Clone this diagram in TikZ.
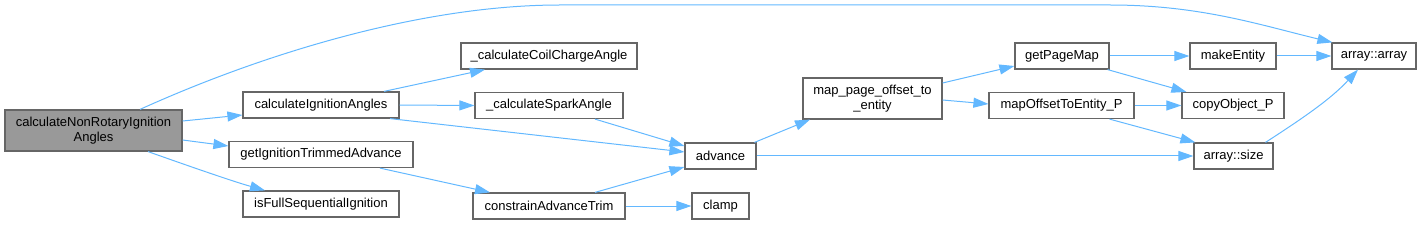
\documentclass[tikz,border=0pt]{standalone}
\usepackage{fontspec}
\setmainfont{Liberation Sans}
\usetikzlibrary{arrows.meta}
\definecolor{edgeblue}{RGB}{99,184,255}
\definecolor{boxgray}{RGB}{102,102,102}
\definecolor{rootgray}{RGB}{153,153,153}

\begin{document}
\begin{tikzpicture}[
  x=1pt,y=1pt,
  every node/.style={font=\fontsize{13}{14.5}\selectfont},
  fnbox/.style={rectangle,draw=boxgray,line width=1.2pt,fill=white,align=center,
    minimum height=26pt,inner sep=2pt},
  call/.style={draw=edgeblue,line width=1pt,-{Triangle[length=15pt,width=10pt]}}
]
\useasboundingbox (0,0) rectangle (1421,225);
\node[fnbox,fill=rootgray,minimum width=177pt,minimum height=41pt] (root) at (93.5,94.5) {calculateNonRotaryIgnition\\Angles};
\node[fnbox,minimum width=156pt] (cia) at (321,120) {calculateIgnitionAngles};
\node[fnbox,minimum width=184pt] (gita) at (321,70.5) {getIgnitionTrimmedAdvance};
\node[fnbox,minimum width=156pt] (fsi) at (321,21) {isFullSequentialIgnition};
\node[fnbox,minimum width=176pt] (ccca) at (549,169) {\_calculateCoilChargeAngle};
\node[fnbox,minimum width=148pt] (csa) at (549,119.5) {\_calculateSparkAngle};
\node[fnbox,minimum width=71pt] (adv) at (720.5,69) {advance};
\node[fnbox,minimum width=152pt] (cat) at (549,19) {constrainAdvanceTrim};
\node[fnbox,minimum width=57pt] (clamp) at (720.5,19) {clamp};
\node[fnbox,minimum width=139pt,minimum height=41pt] (mpo) at (872.5,126.5) {map\_page\_offset\_to\\\_entity};
\node[fnbox,minimum width=94pt] (gpm) at (1062,169) {getPageMap};
\node[fnbox,minimum width=145pt] (moe) at (1061.5,119.5) {mapOffsetToEntity\_P};
\node[fnbox,minimum width=86pt] (mke) at (1233,169) {makeEntity};
\node[fnbox,minimum width=102pt] (cop) at (1233,119.5) {copyObject\_P};
\node[fnbox,minimum width=79pt] (asz) at (1233.5,69) {array::size};
\node[fnbox,minimum width=84pt] (aar) at (1374,169) {array::array};

% calls from the root function
\draw[call] ([xshift=46.5]root.north) .. controls (260,170) and (420,220) .. (560,220)
  -- (1110,220) .. controls (1200,220) and (1260,200) .. ([xshift=1]aar.north west);
\draw[call] ([yshift=9.5]root.east) -- ([yshift=-10]cia.west);
\draw[call] ([yshift=-9.5]root.east) -- ([yshift=8.5]gita.west);
\draw[call] ([xshift=54.5]root.south) .. controls (200,55) and (235,43) .. ([xshift=-56]fsi.north);
% second column
\draw[call] ([xshift=63]cia.north) -- ([xshift=-64]ccca.south);
\draw[call] (cia.east) -- (csa.west);
\draw[call] ([xshift=69]cia.south) -- ([yshift=4]adv.west);
\draw[call] ([xshift=46]csa.south) -- ([yshift=10]adv.west);
\draw[call] ([xshift=59]gita.south) -- ([xshift=-59]cat.north);
\draw[call] ([xshift=46]cat.north) -- ([yshift=-11]adv.west);
\draw[call] (cat.east) -- (clamp.west);
% right part
\draw[call] ([xshift=34]adv.north) -- ([xshift=-62.5]mpo.south);
\draw[call] (adv.east) -- (asz.west);
\draw[call] ([yshift=15.5]mpo.east) -- ([yshift=-10]gpm.west);
\draw[call] ([yshift=-1.5]mpo.east) -- ([yshift=1.5]moe.west);
\draw[call] (gpm.east) -- (mke.west);
\draw[call] ([xshift=-2]gpm.south east) -- ([xshift=5]cop.north west);
\draw[call] (mke.east) -- (aar.west);
\draw[call] (moe.east) -- (cop.west);
\draw[call] ([xshift=48]moe.south) -- ([xshift=2]asz.north west);
\draw[call] ([xshift=32]asz.north) .. controls (1300,105) and (1330,125) .. ([xshift=-16]aar.south);
\end{tikzpicture}
\end{document}
